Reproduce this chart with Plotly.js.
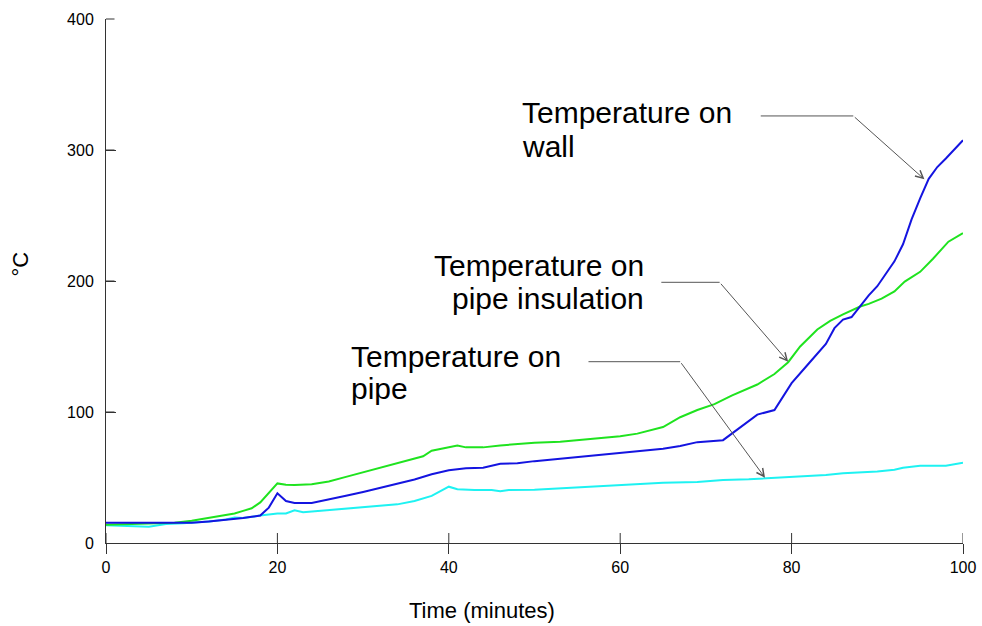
<!DOCTYPE html>
<html>
<head>
<meta charset="utf-8">
<script src="https://cdn.plot.ly/plotly-3.0.1.min.js"></script>
<style>
  html, body { margin: 0; padding: 0; background: #fff; }
  #chart { width: 982px; height: 626px; }
</style>
</head>
<body>
<div id="chart"></div>
<script>
// ---- Data ----
const timeWall = [0,2,4,6,8,10,12,14,15,16,17,18,19,20,21,22,24,26,28,30,32,34,36,38,40,42,44,46,48,50,53,56,58,60,62,65,67,69,72,74,76,78,80,82,84,85,86,87,89,90,92,93,94,95,96,97,98,100];
const tempWall = [15.5,15.5,15.5,15.5,15.5,15.5,16.5,17.5,18,19,20,21,27,38,32,30.5,30.5,33,36,39,42,45,48.5,52.5,55.5,57,57.5,60.5,60.8,62.5,64.4,66.5,67.5,68.5,70,72,74,77,78.5,88,98,101.5,122,137,152,164,170.5,172.5,189,196,215,228,247,263,278,287,293.5,307.5];

const timeInsulation = [0,2,4,6,8,10,12,14,15,16,17,18,19,20,21,22,24,26,28,30,32,34,36,37,38,40,41,42,44,46,48,50,53,56,58,60,62,64,65,67,69,71,73,76,78,79.6,81,83,84.5,86,88,89,90.5,92,93.2,95,96.5,98.3,100];
const tempInsulation = [14,14.5,14.5,15,15.5,17,19,21,22.5,24.5,26.5,31,38,45.5,44.5,44.3,44.8,47,50.5,54,57.5,60.5,64.5,66.2,70.5,73.5,74.5,73,73,74.5,75.5,76.5,77.3,79,80,81.5,83.5,86.5,88.5,96,101.5,106,112.5,121,129,138,150,163,169.5,174.5,180.5,182.5,186.5,192,199.5,207,217,230,236.5];

const timePipe = [0,2,4,5,7,9,12,14,15,16,18,20,21,22,23,25,27,29,32,34,36,37,38,40,41,43,45,46,47,50,53,55,58,60,62,65,69,72,75,77,79,82,84,86,88,90,92,93,95,98,100];
const tempPipe = [13.5,13,12.5,12.5,14.5,15,16.5,18,19.5,19,21,22.5,22.5,25,23.5,24.5,25.5,27,28.5,29.5,32,34,36,43,41,40.5,40.5,39.5,40.5,40.7,41.7,42.5,43.5,44.3,45,46,46.5,48,48.6,49.4,50,51,52,53.2,54,54.5,56,57.5,59,59,61.3];

const xTickVals = [0, 20, 40, 60, 80, 100];
const yTickVals = [0, 100, 200, 300, 400];
const labelLine1 = "Temperature on";
const labelWall = "wall";
const labelInsulation = "pipe insulation";
const labelPipe = "pipe";
const xTitle = "Time (minutes)";
const yTitle = "°C";

const FONT = "Liberation Sans, Arial, Helvetica, sans-serif";

function series(x, y, color) {
  return { x: x, y: y, type: "scatter", mode: "lines",
           line: { color: color, width: 2 }, hoverinfo: "skip",
           xaxis: "x", yaxis: "y", showlegend: false };
}

const traces = [
  series(timePipe, tempPipe, "#1ef2f2"),
  series(timeInsulation, tempInsulation, "#1fe31f"),
  series(timeWall, tempWall, "#1414e0")
];

const textFont = { family: FONT, size: 30, color: "#000" };
function txt(x, y, t, xanchor) {
  return { x: x, y: y, xref: "x", yref: "y", text: t, showarrow: false,
           xanchor: xanchor, yanchor: "middle", font: textFont };
}
function arrow(tx, ty, bx, by) {
  return { x: tx, y: ty, xref: "x", yref: "y", ax: bx, ay: by, axref: "x", ayref: "y",
           text: "", showarrow: true, arrowhead: 5, arrowsize: 1.5, arrowwidth: 1,
           arrowcolor: "#555", standoff: 0, startstandoff: 0 };
}
function hline(x0, x1, y) {
  return { type: "line", xref: "x", yref: "y", x0: x0, x1: x1, y0: y, y1: y,
           line: { color: "#555", width: 1 } };
}

const annotations = [
  txt(48.3, 328.5, labelLine1, "left"),
  txt(48.3, 303, labelWall, "left"),
  txt(63.0, 212.2, labelLine1, "right"),
  txt(63.0, 186.3, labelInsulation, "right"),
  txt(28.3, 142.2, labelLine1, "left"),
  txt(28.3, 118.1, labelPipe, "left"),
  arrow(95.5, 277.6, 87.2, 326),
  arrow(79.6, 138.4, 71.6, 199),
  arrow(76.9, 49.8, 67.0, 138.4),
  { x: 0.4387, y: -0.128, xref: "paper", yref: "paper", text: xTitle, showarrow: false,
    xanchor: "center", yanchor: "middle", font: { family: FONT, size: 22, color: "#000" } },
  { x: -0.1, y: 0.532, xref: "paper", yref: "paper", text: yTitle, showarrow: false,
    textangle: -90, xanchor: "center", yanchor: "middle", font: { family: FONT, size: 22, color: "#000" } }
].concat(yTickVals.filter(v => v > 0).map(v => ({
  // y tick marks pointing into the plot, 10 px long
  x: 0, y: v, xref: "x", yref: "y", ax: 10, ay: 0, text: "", showarrow: true,
  arrowhead: 0, arrowwidth: 1, arrowcolor: "#333", standoff: 0, startstandoff: 0
})));

const shapes = [
  hline(76.4, 87.2, 326),
  hline(64.8, 71.6, 199),
  hline(56.3, 67.0, 138.4)
].concat(xTickVals.map(v => ({
  // inner half of the x tick marks (the reference ticks cross the axis line)
  type: "line", xref: "x", yref: "paper", x0: v, x1: v, y0: 0, y1: 10 / 524,
  layer: "above", line: { color: "#333", width: 1 }
})));

const layout = {
  width: 982, height: 626,
  margin: { l: 106, r: 19, t: 19, b: 83, pad: 0 },
  paper_bgcolor: "#fff", plot_bgcolor: "#fff",
  font: { family: FONT, size: 16, color: "#000" },
  showlegend: false,
  hovermode: false,
  xaxis: {
    range: [0, 100], tickmode: "array", tickvals: xTickVals,
    ticks: "outside", ticklen: 10, tickwidth: 1, tickcolor: "#333",
    showline: true, linecolor: "#333", linewidth: 1,
    showgrid: false, zeroline: false,
    tickfont: { family: FONT, size: 16, color: "#000" }
  },
  yaxis: {
    range: [0, 400], tickmode: "array", tickvals: yTickVals,
    ticks: "inside", ticklen: 10, tickwidth: 1, tickcolor: "#333",
    ticklabelstandoff: 8,
    showline: true, linecolor: "#333", linewidth: 1,
    showgrid: false, zeroline: false,
    tickfont: { family: FONT, size: 16, color: "#000" }
  },
  annotations: annotations,
  shapes: shapes
};

Plotly.newPlot("chart", traces, layout, { displayModeBar: false });
</script>
</body>
</html>
